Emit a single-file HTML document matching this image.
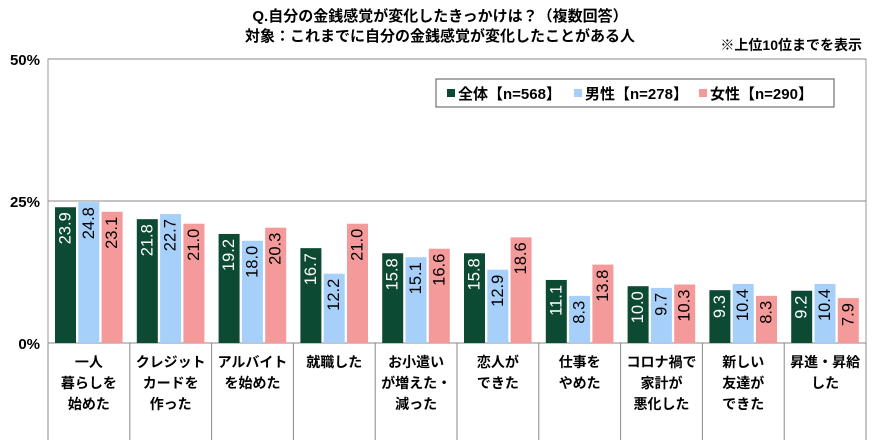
<!DOCTYPE html>
<html><head><meta charset="utf-8"><style>
body{margin:0;background:#fff;font-family:"Liberation Sans","Noto Sans CJK JP",sans-serif;}
</style></head><body>
<svg id="chart" width="880" height="445" style="display:block" font-family="'Liberation Sans','Noto Sans CJK JP',sans-serif">
<text x="440" y="21" text-anchor="middle" font-size="15" font-weight="bold">Q.自分の金銭感覚が変化したきっかけは？（複数回答）</text>
<text x="440" y="41" text-anchor="middle" font-size="15" font-weight="bold">対象：これまでに自分の金銭感覚が変化したことがある人</text>
<text x="862" y="50" text-anchor="end" font-size="14" font-weight="bold">※上位10位までを表示</text>
<g id="plot"></g>
</svg>
<script>
const categories=[["一人","暮らしを","始めた"],["クレジット","カードを","作った"],["アルバイト","を始めた"],["就職した"],["お小遣い","が増えた・","減った"],["恋人が","できた"],["仕事を","やめた"],["コロナ禍で","家計が","悪化した"],["新しい","友達が","できた"],["昇進・昇給","した"]];
const seriesAll=[23.9,21.8,19.2,16.7,15.8,15.8,11.1,10.0,9.3,9.2];
const seriesMale=[24.8,22.7,18.0,12.2,15.1,12.9,8.3,9.7,10.4,10.4];
const seriesFemale=[23.1,21.0,20.3,21.0,16.6,18.6,13.8,10.3,8.3,7.9];
const seriesNames=["全体【n=568】","男性【n=278】","女性【n=290】"];
const tickValues=[0,25,50];
const colors=["#0d4a33","#a6cffa","#f59a9a"];
const textColors=["#fff","#000","#000"];
const L=48,R=866,T=59,B=343;
const y=v=>B-(v/50)*(B-T);
const gw=(R-L)/categories.length;
const x=i=>L+i*gw;
const NS="http://www.w3.org/2000/svg";
const g=document.getElementById('plot');
function mk(t,a){const e=document.createElementNS(NS,t);for(const k in a)e.setAttribute(k,a[k]);g.appendChild(e);return e;}
let e=mk('rect',{x:L,y:T,width:R-L,height:B-T,fill:'none',stroke:'#999','stroke-width':1});


tickValues.forEach(v=>{
 let l=mk('line',{x1:L,x2:R,y1:y(v),y2:y(v),stroke:'#888','stroke-width':1});
 
 
 let t=mk('text',{x:L-8,y:y(v)+6,'text-anchor':'end','font-size':15,'font-weight':'bold'});
 t.textContent=v+'%';
 
 
});
const series=[seriesAll,seriesMale,seriesFemale];
categories.forEach((c,i)=>{
 let d=mk('line',{x1:x(i),x2:x(i),y1:B,y2:440,stroke:'#888'});
 
 
 series.forEach((s,j)=>{
  const bx=x(i)+7+j*23.3,bw=21;
  let r=mk('rect',{x:bx,y:y(s[i]),width:bw,height:B-y(s[i]),fill:colors[j]});
  
  
  const cx=bx+bw/2,cy=y(s[i])+5;
  let t=mk('text',{x:cx,y:cy,transform:`rotate(-90 ${cx} ${cy})`,'text-anchor':'end','dominant-baseline':'central','font-size':16.5,fill:textColors[j]});
  t.textContent=s[i].toFixed(1);
  
  
 });
 c.forEach((ln,k)=>{
  let t=mk('text',{x:x(i)+gw/2,y:367+k*21,'text-anchor':'middle','font-size':14,'font-weight':'bold'});
  t.textContent=ln;
  
  
 });
});
let d=mk('line',{x1:R,x2:R,y1:B,y2:440,stroke:'#888'});


let lb=mk('rect',{x:436,y:79,width:398,height:28,fill:'#fff',stroke:'#555'});


const lx=[458,585,710];
seriesNames.forEach((n,j)=>{
 let s=mk('rect',{x:lx[j]-11,y:89,width:8,height:8,fill:colors[j]});
 
 
 let t=mk('text',{x:lx[j],y:99,'font-size':15,'font-weight':'bold'});
 t.textContent=n;
 
 
});
</script>
</body></html>
